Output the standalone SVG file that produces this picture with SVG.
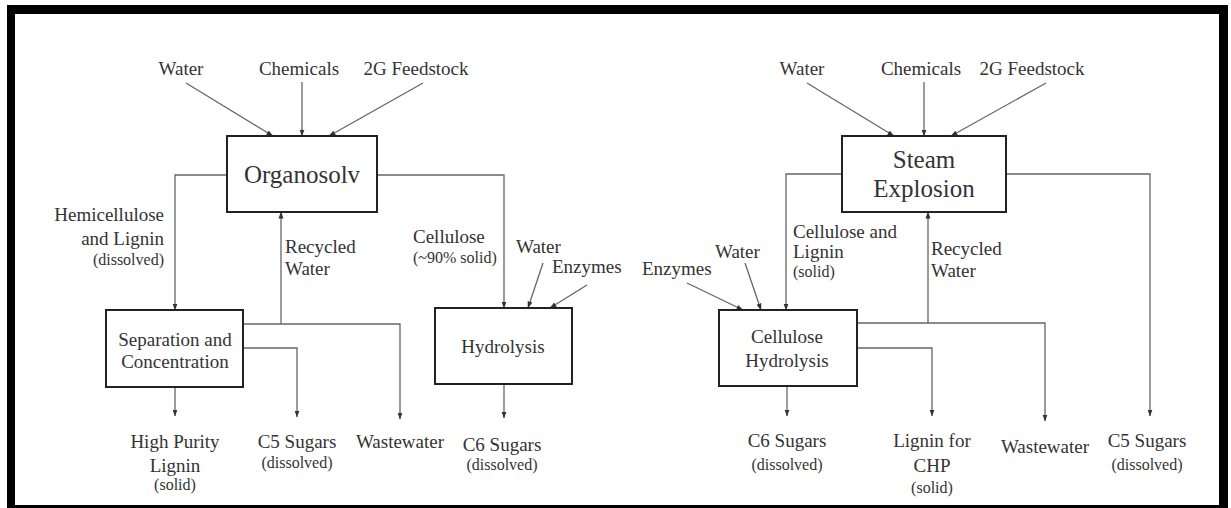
<svg xmlns="http://www.w3.org/2000/svg" width="1231" height="508" viewBox="0 0 1231 508">
  <defs>
    <marker id="arr" markerUnits="userSpaceOnUse" markerWidth="7" markerHeight="6" refX="6.5" refY="3" orient="auto">
      <path d="M0,0.5 L7,3 L0,5.5 z" fill="#333"/>
    </marker>
    <style>
      text { fill: #333; }
      .lbl { font-size: 19px; }
      .sm { font-size: 16px; }
      .big { font-size: 25px; }
      .mid { text-anchor: middle; }
      .end { text-anchor: end; }
      .box { fill: #fff; stroke: #222; stroke-width: 2; }
      .ln { fill: none; stroke: #666; stroke-width: 1.3; }
      .ar { marker-end: url(#arr); }
    </style>
  </defs>

  <rect x="0" y="0" width="1231" height="508" fill="#fff"/>

  <!-- frame -->
  <g id="frame" fill="#000">
    <rect x="7" y="5" width="8" height="503"/>
    <rect x="7" y="5" width="1221" height="9"/>
    <rect x="1219" y="5" width="9" height="503"/>
    <rect x="7" y="505" width="1221" height="3"/>
  </g>

  <!-- connectors -->
  <g id="connectors">
    <!-- organosolv inputs -->
    <line class="ln ar" x1="186" y1="83" x2="273" y2="136"/>
    <line class="ln ar" x1="302" y1="82" x2="302" y2="136"/>
    <line class="ln ar" x1="423" y1="83" x2="329" y2="136"/>
    <!-- organosolv outputs -->
    <path class="ln ar" d="M227,175 H175 V310"/>
    <path class="ln ar" d="M377,175 H504 V308"/>
    <!-- hydrolysis inputs -->
    <line class="ln ar" x1="543" y1="263" x2="528" y2="308"/>
    <line class="ln ar" x1="587" y1="285" x2="550" y2="308"/>
    <!-- separation outputs -->
    <path class="ln ar" d="M281,324 V212"/>
    <path class="ln ar" d="M243,324 H400 V419"/>
    <path class="ln ar" d="M243,348 H297 V417"/>
    <path class="ln ar" d="M175,387 V416"/>
    <path class="ln ar" d="M504,384 V418"/>

    <!-- steam explosion inputs -->
    <line class="ln ar" x1="807" y1="83" x2="894" y2="136"/>
    <line class="ln ar" x1="924" y1="82" x2="924" y2="136"/>
    <line class="ln ar" x1="1046" y1="83" x2="951" y2="136"/>
    <!-- steam explosion outputs -->
    <path class="ln ar" d="M842,174 H786 V310"/>
    <path class="ln ar" d="M1006,174 H1150 V416"/>
    <!-- cellulose hydrolysis inputs -->
    <line class="ln ar" x1="687" y1="283" x2="743" y2="310"/>
    <line class="ln ar" x1="745" y1="263" x2="761" y2="310"/>
    <!-- cellulose hydrolysis outputs -->
    <path class="ln ar" d="M928,323 V212"/>
    <path class="ln ar" d="M857,323 H1045 V421"/>
    <path class="ln ar" d="M857,348 H932 V416"/>
    <path class="ln ar" d="M787,386 V416"/>
  </g>

  <g font-family="'Liberation Serif', Tinos, 'Times New Roman', 'DejaVu Serif', serif">
  <!-- left process -->
  <g id="organosolv">
    <rect class="box" x="227" y="136" width="150" height="76"/>
    <text class="big mid" x="302" y="183">Organosolv</text>
  </g>
  <g id="separation">
    <rect class="box" x="106" y="310" width="137" height="77"/>
    <text class="lbl mid" x="175" y="346">Separation and</text>
    <text class="lbl mid" x="175" y="368">Concentration</text>
  </g>
  <g id="hydrolysis">
    <rect class="box" x="435" y="308" width="137" height="76"/>
    <text class="lbl mid" x="503" y="353">Hydrolysis</text>
  </g>
  <g id="left-labels">
    <text class="lbl mid" x="181" y="75">Water</text>
    <text class="lbl mid" x="299" y="75">Chemicals</text>
    <text class="lbl mid" x="416" y="75">2G Feedstock</text>
    <text class="lbl end" x="164" y="221">Hemicellulose</text>
    <text class="lbl end" x="164" y="245">and Lignin</text>
    <text class="sm end" x="164" y="265">(dissolved)</text>
    <text class="lbl" x="285" y="253">Recycled</text>
    <text class="lbl" x="285" y="275">Water</text>
    <text class="lbl" x="413" y="243">Cellulose</text>
    <text class="sm" x="413" y="263">(~90% solid)</text>
    <text class="lbl" x="516" y="253">Water</text>
    <text class="lbl" x="552" y="273">Enzymes</text>
    <text class="lbl mid" x="175" y="448">High Purity</text>
    <text class="lbl mid" x="175" y="472">Lignin</text>
    <text class="sm mid" x="175" y="490">(solid)</text>
    <text class="lbl mid" x="297" y="448">C5 Sugars</text>
    <text class="sm mid" x="297" y="468">(dissolved)</text>
    <text class="lbl mid" x="400" y="448">Wastewater</text>
    <text class="lbl mid" x="502" y="451">C6 Sugars</text>
    <text class="sm mid" x="502" y="470">(dissolved)</text>
  </g>

  <!-- right process -->
  <g id="steam-explosion">
    <rect class="box" x="842" y="136" width="164" height="76"/>
    <text class="big mid" x="924" y="168">Steam</text>
    <text class="big mid" x="924" y="197">Explosion</text>
  </g>
  <g id="cellulose-hydrolysis">
    <rect class="box" x="719" y="310" width="138" height="76"/>
    <text class="lbl mid" x="787" y="343">Cellulose</text>
    <text class="lbl mid" x="787" y="367">Hydrolysis</text>
  </g>
  <g id="right-labels">
    <text class="lbl mid" x="802" y="75">Water</text>
    <text class="lbl mid" x="921" y="75">Chemicals</text>
    <text class="lbl mid" x="1032" y="75">2G Feedstock</text>
    <text class="lbl" x="793" y="238">Cellulose and</text>
    <text class="lbl" x="793" y="258">Lignin</text>
    <text class="sm" x="793" y="277">(solid)</text>
    <text class="lbl" x="931" y="255">Recycled</text>
    <text class="lbl" x="931" y="277">Water</text>
    <text class="lbl" x="715" y="258">Water</text>
    <text class="lbl" x="642" y="275">Enzymes</text>
    <text class="lbl mid" x="787" y="447">C6 Sugars</text>
    <text class="sm mid" x="787" y="470">(dissolved)</text>
    <text class="lbl mid" x="932" y="447">Lignin for</text>
    <text class="lbl mid" x="932" y="472">CHP</text>
    <text class="sm mid" x="932" y="493">(solid)</text>
    <text class="lbl mid" x="1045" y="453">Wastewater</text>
    <text class="lbl mid" x="1147" y="447">C5 Sugars</text>
    <text class="sm mid" x="1147" y="470">(dissolved)</text>
  </g>
  </g>
</svg>
